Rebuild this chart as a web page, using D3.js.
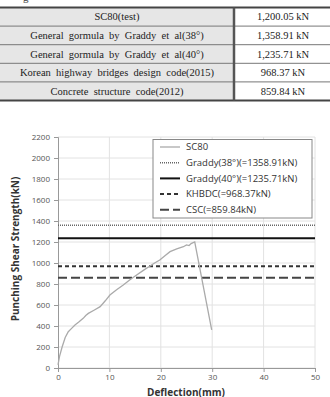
<!DOCTYPE html>
<html>
<head>
<meta charset="utf-8">
<script src="https://cdn.jsdelivr.net/npm/d3@7"></script>
<style>
  body { margin: 0; background: #fff; }
  svg { display: block; }
</style>
</head>
<body>
<svg id="svg"></svg>
<script>
// table rows
var tableNames = [
  'SC80(test)',
  'General  gormula  by  Graddy  et  al(38°)',
  'General  gormula  by  Graddy  et  al(40°)',
  'Korean  highway  bridges  design  code(2015)',
  'Concrete  structure  code(2012)'
];
var tableValues = ['1,200.05 kN', '1,358.91 kN', '1,235.71 kN', '968.37 kN', '859.84 kN'];

// SC80 test curve (deflection mm, load kN)
var sc80Defl = [0, 0.3, 0.8, 1.4, 2.0, 2.6, 3.3, 4.1, 4.9, 5.4, 5.9, 7.0, 8.2, 9.2, 10.1, 11.4, 12.7, 14.0, 15.3, 16.6, 17.9, 18.8, 19.8, 20.8, 21.8, 23.1, 24.4, 25.0, 25.5, 25.9, 26.6, 29.9];
var sc80Load = [30, 110, 200, 290, 346, 375, 410, 440, 473, 500, 520, 550, 584, 640, 695, 745, 790, 840, 886, 930, 971, 1000, 1028, 1070, 1108, 1135, 1155, 1172, 1166, 1185, 1200, 362];

// design values
var refNames = ['Graddy(38°)(=1358.91kN)', 'Graddy(40°)(=1235.71kN)', 'KHBDC(=968.37kN)', 'CSC(=859.84kN)'];
var refValues = [1358.91, 1235.71, 968.37, 859.84];

var W = 330, H = 397;
var svg = d3.select('#svg').attr('width', W).attr('height', H);

// ---- table ----
var tTop = 7.5, rowH = 18.6, colX = 234;
var tbl = svg.append('g');

// caption fragment above the table, cut by the page edge as in the source
svg.append('text').attr('x', 23).attr('y', 1)
  .attr('font-family', 'Liberation Serif').attr('font-size', 11).attr('fill', '#444').text('g');

tbl.append('rect').attr('x', 0).attr('y', tTop).attr('width', colX).attr('height', rowH * tableNames.length)
  .attr('fill', '#e6e6e6');

tableNames.forEach(function(n, i) {
  var cy = tTop + rowH * i + rowH / 2;
  tbl.append('text').attr('x', colX / 2).attr('y', cy + 3.6)
    .attr('text-anchor', 'middle').attr('font-family', 'Liberation Serif').attr('font-size', 10.5)
    .attr('fill', '#222').attr('xml:space', 'preserve').text(n);
  tbl.append('text').attr('x', 283).attr('y', cy + 3.6)
    .attr('text-anchor', 'middle').attr('font-family', 'Liberation Serif').attr('font-size', 10.5)
    .attr('fill', '#222').text(tableValues[i]);
  if (i > 0) {
    tbl.append('line').attr('x1', 0).attr('x2', W).attr('y1', tTop + rowH * i).attr('y2', tTop + rowH * i)
      .attr('stroke', '#777').attr('stroke-width', 1);
  }
});
tbl.append('line').attr('x1', 0).attr('x2', W).attr('y1', tTop).attr('y2', tTop)
  .attr('stroke', '#444').attr('stroke-width', 2);
tbl.append('line').attr('x1', 0).attr('x2', W).attr('y1', tTop + rowH * 5).attr('y2', tTop + rowH * 5)
  .attr('stroke', '#444').attr('stroke-width', 2);
tbl.append('line').attr('x1', colX).attr('x2', colX).attr('y1', tTop).attr('y2', tTop + rowH * 5)
  .attr('stroke', '#555').attr('stroke-width', 2.5);

// ---- chart ----
var x = d3.scaleLinear().domain([0, 50]).range([58, 315]);
var y = d3.scaleLinear().domain([0, 2200]).range([368, 137]);
var font = 'Open Sans';

var grid = svg.append('g');
grid.selectAll('line.h').data(y.ticks(11)).enter().append('line')
  .attr('x1', x(0)).attr('x2', x(50)).attr('y1', function(d) { return y(d); }).attr('y2', function(d) { return y(d); })
  .attr('stroke', '#e2e2e2').attr('stroke-width', 1);
grid.selectAll('line.v').data(x.ticks(5).slice(1)).enter().append('line')
  .attr('y1', y(0)).attr('y2', y(2200)).attr('x1', function(d) { return x(d); }).attr('x2', function(d) { return x(d); })
  .attr('stroke', '#e2e2e2').attr('stroke-width', 1);

var yAxis = svg.append('g').attr('transform', 'translate(' + x(0) + ',0)')
  .call(d3.axisLeft(y).tickValues(d3.range(0, 2201, 200)).tickSize(4).tickPadding(4).tickFormat(d3.format('d')));
var xAxis = svg.append('g').attr('transform', 'translate(0,' + y(0) + ')')
  .call(d3.axisBottom(x).tickValues(d3.range(0, 51, 10)).tickSize(4).tickPadding(2));
[yAxis, xAxis].forEach(function(a) {
  a.select('.domain').attr('stroke', '#999');
  a.selectAll('.tick line').attr('stroke', '#999');
  a.selectAll('text').attr('font-family', font).attr('font-size', 8).attr('fill', '#555');
});

svg.append('text').attr('x', 186).attr('y', 395.5).attr('text-anchor', 'middle')
  .attr('font-family', font).attr('font-weight', 'bold').attr('font-size', 10).attr('fill', '#333')
  .text('Deflection(mm)');
svg.append('text').attr('transform', 'translate(19,249) rotate(-90)').attr('text-anchor', 'middle')
  .attr('font-family', font).attr('font-weight', 'bold').attr('font-size', 10).attr('fill', '#333')
  .text('Punching Shear Strength(kN)');

// reference lines
var refStyle = [
  { stroke: '#666', width: 1.5, dash: '1,1' },
  { stroke: '#111', width: 2, dash: null },
  { stroke: '#333', width: 2, dash: '4,3' },
  { stroke: '#444', width: 2, dash: '9,4' }
];
refValues.forEach(function(v, i) {
  svg.append('line').attr('x1', x(0)).attr('x2', x(50)).attr('y1', y(v)).attr('y2', y(v))
    .attr('stroke', refStyle[i].stroke).attr('stroke-width', refStyle[i].width)
    .attr('stroke-dasharray', refStyle[i].dash);
});

// SC80 curve
var pts = sc80Defl.map(function(d, i) { return [d, sc80Load[i]]; });
svg.append('path').datum(pts)
  .attr('d', d3.line().x(function(d) { return x(d[0]); }).y(function(d) { return y(d[1]); }))
  .attr('fill', 'none').attr('stroke', '#aaa').attr('stroke-width', 1.3);

// legend
var lg = svg.append('g');
lg.append('rect').attr('x', 153).attr('y', 139.5).attr('width', 159).attr('height', 78.5)
  .attr('fill', '#fff').attr('stroke', '#888').attr('stroke-width', 1);
var legNames = ['SC80'].concat(refNames);
var legStyle = [{ stroke: '#aaa', width: 1.3, dash: null }].concat(refStyle);
legNames.forEach(function(n, i) {
  var ly = 147 + i * 15.7;
  lg.append('line').attr('x1', 160).attr('x2', 180).attr('y1', ly).attr('y2', ly)
    .attr('stroke', legStyle[i].stroke).attr('stroke-width', legStyle[i].width)
    .attr('stroke-dasharray', legStyle[i].dash);
  lg.append('text').attr('x', 186).attr('y', ly + 3.3)
    .attr('font-family', font).attr('font-size', 9.5).attr('fill', '#333').text(n);
});
</script>
</body>
</html>
